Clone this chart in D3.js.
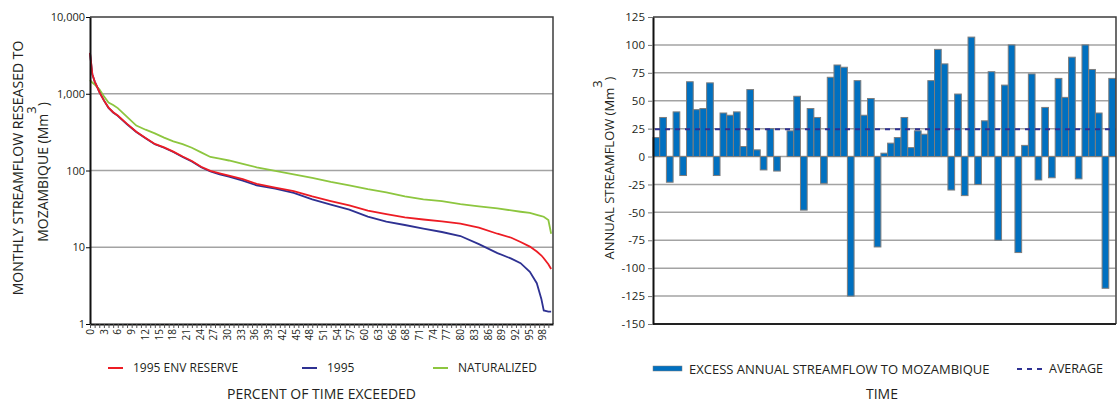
<!DOCTYPE html>
<html>
<head>
<meta charset="utf-8">
<script src="https://cdn.jsdelivr.net/npm/d3@7"></script>
<style>
    body { margin: 0; background: #fff; }
    svg text { font-family: "Open Sans", sans-serif; fill: #231f20; }
</style>
</head>
<body>
<svg id="chart" width="1119" height="403"></svg>
<script>
// flow duration curves (percent of time exceeded -> Mm3)
var pct = [0, 0.5, 1, 1.5, 2, 3, 4, 5, 6, 8, 10, 12, 14, 16, 18, 20, 22, 24, 26, 28, 30, 33, 36, 40,
    44, 48, 52, 56, 60, 64, 68, 72, 76, 80, 84, 88, 91, 93, 95, 96.5, 97.5, 98, 99, 99.6];
var envReserve = [3400, 1800, 1450, 1250, 1060, 820, 660, 575, 520, 405, 320, 266, 222, 200, 176, 152, 133, 112, 99, 92, 86, 77, 67, 60,
    54, 46, 40, 35, 30, 27, 24.5, 23, 21.8, 20.3, 18, 15, 13.3, 11.7, 10.2, 8.8, 7.8, 7.2, 6, 5.2];
var flow1995 = [3400, 1800, 1450, 1250, 1060, 820, 655, 570, 515, 400, 318, 264, 220, 198, 174, 150, 131, 110, 97, 89, 83, 74, 64, 58,
    51, 42, 36, 31, 25, 21.5, 19.5, 17.5, 15.8, 14, 11, 8.4, 7.1, 6.2, 4.8, 3.4, 2.1, 1.5, 1.45, 1.45];
var naturalized = [1500, 1400, 1320, 1220, 1150, 930, 770, 715, 650, 500, 385, 340, 305, 268, 240, 220, 198, 172, 150, 143, 135, 122, 110, 99,
    89, 80, 71, 64, 57, 52, 46, 42, 40, 36.5, 34, 32, 30.2, 29, 28, 26.5, 25.5, 25, 22.6, 15];
var pctLabels = ["0", "3", "6", "9", "12", "15", "18", "21", "24", "27", "30", "33", "36", "39", "42", "45", "48",
    "51", "54", "57", "60", "63", "66", "68", "71", "74", "77", "80", "83", "86", "89", "92", "95", "98"];
var logTicks = [1, 10, 100, 1000, 10000];

// annual excess streamflow (Mm3)
var excessFlow = [17, 35, -23, 40, -17, 67, 42, 43, 66, -17, 39, 37, 40, 9, 60, 6, -12, 25, -13, 0,
    23, 54, -48, 43, 35, -24, 71, 82, 80, -125, 68, 37, 52, -81, 3, 12, 17, 35, 8, 23,
    20, 68, 96, 83, -30, 56, -35, 107, -25, 32, 76, -75, 64, 100, -86, 10, 74, -21, 44, -19,
    70, 53, 89, -20, 100, 78, 39, -118, 70];
var averageFlow = 24.5;
var flowTicks = [125, 100, 75, 50, 25, 0, -25, -50, -75, -100, -125, -150];

var svg = d3.select("#chart");
var gridColor = "#a3a3a3";

// ---------- left: flow duration ----------
var L = { left: 90, right: 553, top: 17, bottom: 324 };
var xL = d3.scaleLinear().domain([0, 100]).range([L.left, L.right]);
var yL = d3.scaleLog().domain([1, 10000]).range([L.bottom, L.top]);
var xLab = d3.scalePoint().domain(pctLabels).range([xL(0), xL(97.7)]);

var left = svg.append("g");

left.selectAll(".gridL")
    .data(logTicks.slice(1, 4)).enter()
    .append("line")
    .attr("x1", L.left).attr("x2", L.right)
    .attr("y1", d => yL(d)).attr("y2", d => yL(d))
    .attr("stroke", gridColor).attr("stroke-width", 1.5);

left.append("path")
    .attr("d", "M" + L.left + "," + L.top + "H" + L.right + "V" + L.bottom)
    .attr("fill", "none").attr("stroke", "#3c3c3c").attr("stroke-width", 1.5);

var series = [
    { name: "NATURALIZED", values: naturalized, color: "#8dc63f" },
    { name: "1995", values: flow1995, color: "#2e3192" },
    { name: "1995 ENV RESERVE", values: envReserve, color: "#ed1c24" }
];

var line = d3.line()
    .x((d, i) => xL(pct[i]))
    .y(d => yL(d));

left.selectAll(".curve")
    .data(series).enter()
    .append("path")
    .attr("d", d => line(d.values))
    .attr("fill", "none")
    .attr("stroke", d => d.color)
    .attr("stroke-width", 1.8);

var yAxisL = left.append("g")
    .attr("transform", "translate(" + L.left + ",0)")
    .call(d3.axisLeft(yL).tickValues(logTicks).tickFormat(d3.format(",")).tickSize(4).tickSizeOuter(0));
yAxisL.select(".domain").attr("stroke", "#111").attr("stroke-width", 2);
yAxisL.selectAll("text").attr("font-size", 11).attr("x", -5);

var minorX = left.append("g")
    .attr("transform", "translate(0," + L.bottom + ")")
    .call(d3.axisBottom(xL).tickValues(d3.range(0, 100, 1)).tickFormat("").tickSize(4).tickSizeOuter(0));
minorX.select(".domain").attr("stroke", "#111").attr("stroke-width", 2);
minorX.selectAll(".tick line").attr("stroke", "#555");

var labX = left.append("g")
    .attr("transform", "translate(0," + L.bottom + ")")
    .call(d3.axisBottom(xLab).tickSize(0).tickSizeOuter(0));
labX.select(".domain").remove();
labX.selectAll("text")
    .attr("font-size", 10)
    .attr("transform", "rotate(-90)")
    .attr("x", -5).attr("y", 0).attr("dy", "0.35em")
    .style("text-anchor", "end");

// left legend
var legL = left.selectAll(".legL")
    .data([series[2], series[1], series[0]]).enter()
    .append("g")
    .attr("transform", (d, i) => "translate(" + [108, 302, 433][i] + ",368)");
legL.append("line").attr("x1", 0).attr("x2", 15)
    .attr("stroke", d => d.color).attr("stroke-width", 2);
legL.append("text").attr("x", 25).attr("dy", "0.35em")
    .attr("font-size", 12).text(d => d.name);

left.append("text")
    .attr("x", (L.left + L.right) / 2).attr("y", 399)
    .attr("text-anchor", "middle").attr("font-size", 14)
    .text("PERCENT OF TIME EXCEEDED");

left.append("text")
    .attr("transform", "translate(23,168) rotate(-90)")
    .attr("text-anchor", "middle").attr("font-size", 14)
    .text("MONTHLY STREAMFLOW RESEASED TO");

var t2 = left.append("text")
    .attr("transform", "translate(48,172) rotate(-90)")
    .attr("text-anchor", "middle").attr("font-size", 14);
t2.append("tspan").text("MOZAMBIQUE (Mm");
t2.append("tspan").attr("dy", -12).attr("font-size", 13).text("3");
t2.append("tspan").attr("dy", 12).text(")");

// ---------- right: annual excess streamflow ----------
var R = { left: 653, right: 1115.5, top: 17, bottom: 324 };
var xR = d3.scaleBand().domain(d3.range(excessFlow.length)).range([R.left, R.right]).padding(0);
var yR = d3.scaleLinear().domain([-150, 125]).range([R.bottom, R.top]);

var right = svg.append("g");

right.selectAll(".gridR")
    .data(flowTicks.slice(1, flowTicks.length - 1)).enter()
    .append("line")
    .attr("x1", R.left).attr("x2", R.right)
    .attr("y1", d => yR(d)).attr("y2", d => yR(d))
    .attr("stroke", gridColor).attr("stroke-width", 1.5);

right.selectAll(".bar")
    .data(excessFlow).enter()
    .append("rect")
    .attr("x", (d, i) => xR(i))
    .attr("width", xR.bandwidth())
    .attr("y", d => yR(Math.max(0, d)))
    .attr("height", d => Math.abs(yR(d) - yR(0)))
    .attr("fill", "#0070c0")
    .attr("stroke", "#7d7d7d")
    .attr("stroke-width", 1);

right.append("line")
    .attr("x1", R.left + 2).attr("x2", R.right)
    .attr("y1", yR(averageFlow)).attr("y2", yR(averageFlow))
    .attr("stroke", "#2e3192").attr("stroke-width", 2)
    .attr("stroke-dasharray", "5,5");

right.append("path")
    .attr("d", "M" + R.left + "," + R.top + "H" + (R.right + 0.5) + "V" + R.bottom)
    .attr("fill", "none").attr("stroke", "#3c3c3c").attr("stroke-width", 1.5);

right.append("line")
    .attr("x1", R.left).attr("x2", R.right + 0.5)
    .attr("y1", R.bottom).attr("y2", R.bottom)
    .attr("stroke", "#222").attr("stroke-width", 2);

var yAxisR = right.append("g")
    .attr("transform", "translate(" + R.left + ",0)")
    .call(d3.axisLeft(yR).tickValues(flowTicks).tickFormat(d => String(d)).tickSize(5).tickSizeOuter(0));
yAxisR.select(".domain").attr("stroke", "#111").attr("stroke-width", 2);
yAxisR.selectAll(".tick line").attr("stroke", "#777");
yAxisR.selectAll("text").attr("font-size", 11.5).attr("x", -8);

var t3 = right.append("text")
    .attr("transform", "translate(614,168) rotate(-90)")
    .attr("text-anchor", "middle").attr("font-size", 13);
t3.append("tspan").text("ANNUAL STREAMFLOW (Mm");
t3.append("tspan").attr("dy", -12).text("3");
t3.append("tspan").attr("dy", 12).text(")");

// right legend
right.append("rect")
    .attr("x", 653).attr("y", 366).attr("width", 29).attr("height", 5)
    .attr("fill", "#0070c0").attr("stroke", "#7d7d7d").attr("stroke-width", 0.5);
right.append("text")
    .attr("x", 689).attr("y", 369).attr("dy", "0.35em").attr("font-size", 13)
    .text("EXCESS ANNUAL STREAMFLOW TO MOZAMBIQUE");
right.append("line")
    .attr("x1", 1017).attr("x2", 1043).attr("y1", 369).attr("y2", 369)
    .attr("stroke", "#2e3192").attr("stroke-width", 2).attr("stroke-dasharray", "5,5");
right.append("text")
    .attr("x", 1049).attr("y", 369).attr("dy", "0.35em").attr("font-size", 12.5)
    .text("AVERAGE");

right.append("text")
    .attr("x", 882).attr("y", 399)
    .attr("text-anchor", "middle").attr("font-size", 14)
    .text("TIME");
</script>
</body>
</html>
